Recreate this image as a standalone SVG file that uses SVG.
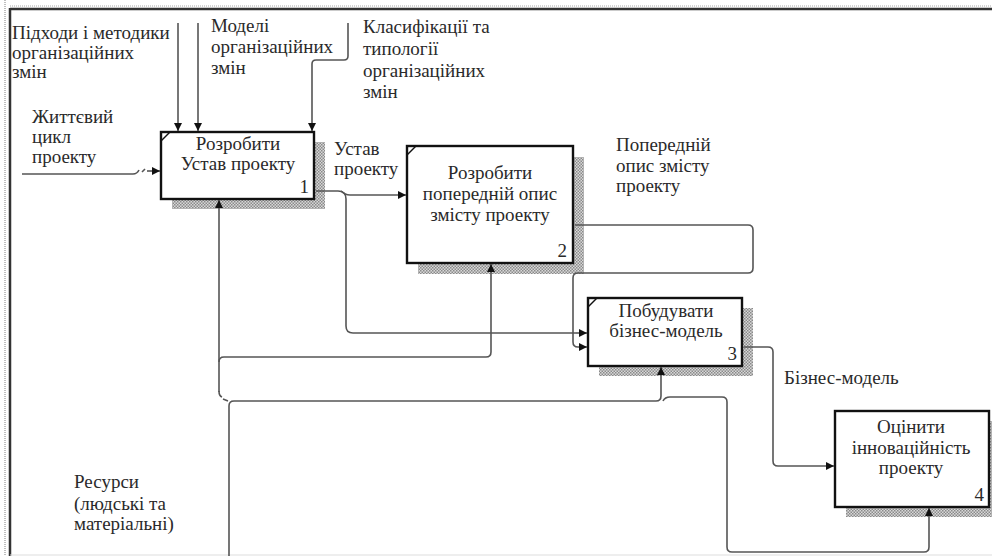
<svg xmlns="http://www.w3.org/2000/svg" width="992" height="556" viewBox="0 0 992 556">
<defs>
<pattern id="hatch" width="3" height="3" patternUnits="userSpaceOnUse">
<rect width="3" height="3" fill="#d8d8d8"/>
<rect width="1.5" height="1.5" fill="#8a8a8a"/>
<rect x="1.5" y="1.5" width="1.5" height="1.5" fill="#8a8a8a"/>
</pattern>
<marker id="ah" viewBox="0 0 10 10" refX="10" refY="5" markerWidth="9" markerHeight="8" markerUnits="userSpaceOnUse" orient="auto">
<path d="M0,0 L10,5 L0,10 Z" fill="#111"/>
</marker>
<style>
.t{font-family:"Liberation Serif","DejaVu Serif",serif;font-size:19px;fill:#2a2a2a}
.c{text-anchor:middle}
.n{text-anchor:end}
.box{fill:#fff;stroke:#111;stroke-width:2.4}
.sh{fill:url(#hatch)}
.mk{stroke:#111;stroke-width:1.5;fill:none}
.a{fill:none;stroke:#555;stroke-width:1.6}
.ar{fill:none;stroke:#555;stroke-width:1.6;marker-end:url(#ah)}
</style>
</defs>
<rect width="992" height="556" fill="#fff"/>
<g id="frame">
<line x1="5" y1="0" x2="5" y2="556" stroke="#aaa" stroke-width="1.5" stroke-dasharray="1 1"/>
<line x1="10" y1="6" x2="992" y2="6" stroke="#aaa" stroke-width="1" stroke-dasharray="1 1"/>
<line x1="10" y1="9" x2="992" y2="9" stroke="#333" stroke-width="2.5"/>
<line x1="10" y1="8" x2="10" y2="556" stroke="#333" stroke-width="2.5"/>
<line x1="10" y1="555" x2="992" y2="555" stroke="#ddd" stroke-width="1"/>
</g>
<g id="node1">
<rect class="sh" x="172" y="142" width="153" height="67"/>
<rect class="box" x="161" y="132" width="153" height="67"/>
<line class="mk" x1="161" y1="141" x2="170" y2="132"/>
<text class="t c" x="238" y="150">Розробити</text>
<text class="t c" x="238" y="170">Устав проекту</text>
<text class="t n" x="309" y="193">1</text>
</g>
<g id="node2">
<rect class="sh" x="418" y="157" width="166" height="117"/>
<rect class="box" x="407" y="146" width="166" height="117"/>
<line class="mk" x1="407" y1="155" x2="416" y2="146"/>
<text class="t c" x="490" y="179">Розробити</text>
<text class="t c" x="490" y="200">попередній опис</text>
<text class="t c" x="490" y="221">змісту проекту</text>
<text class="t n" x="567" y="257">2</text>
</g>
<g id="node3">
<rect class="sh" x="599" y="308" width="154" height="68"/>
<rect class="box" x="588" y="298" width="154" height="68"/>
<line class="mk" x1="588" y1="307" x2="597" y2="298"/>
<text class="t c" x="666" y="317">Побудувати</text>
<text class="t c" x="666" y="337">бізнес-модель</text>
<text class="t n" x="737" y="360">3</text>
</g>
<g id="node4">
<rect class="sh" x="846" y="421" width="154" height="96"/>
<rect class="box" x="835" y="411" width="154" height="96"/>
<text class="t c" x="911" y="433">Оцінити</text>
<text class="t c" x="911" y="454">інноваційність</text>
<text class="t c" x="911" y="474">проекту</text>
<text class="t n" x="984" y="501">4</text>
</g>
<g id="connectors">
<path class="ar" d="M178,23 V131"/>
<path class="ar" d="M198,23 V131"/>
<path class="ar" d="M348,23 V56 Q348,60 344,60 H316 Q312,60 312,64 V131"/>
<path class="a" d="M22,174 H133 Q137,174 139,170"/>
<path class="a" d="M142,172 L145,169"/>
<path class="ar" d="M147,171 H160"/>
<path class="a" d="M316,191 H338 Q346,191 346,199 V326 Q346,333 353,333 H576"/>
<path class="ar" d="M576,333 H587"/>
<path class="ar" d="M341,191 Q345,195 350,195 H406"/>
<path class="ar" d="M575,225 H748 Q753,225 753,230 V268 Q753,273 748,273 H578 Q573,273 573,278 V342 Q573,347 578,347 H587"/>
<path class="ar" d="M744,347 H768 Q773,347 773,352 V461 Q773,466 778,466 H834"/>
<path class="ar" d="M229,556 V406 Q229,401 234,401 H656 Q661,401 661,396 V367"/>
<path class="ar" d="M663,401 Q665,397 670,397 H722 Q727,397 727,402 V547 Q727,552 732,552 H924 Q929,552 929,547 V508"/>
<path class="ar" d="M219,392 V200"/>
<path class="a" d="M219,391 Q219,396 222,397 M223,399 L228,401"/>
<path class="ar" d="M219,362 Q219,357 224,357 H486 Q491,357 491,352 V264"/>
</g>
<g id="labels">
<text class="t" x="12" y="39">Підходи і методики</text>
<text class="t" x="12" y="59">організаційних</text>
<text class="t" x="12" y="78">змін</text>
<text class="t" x="211" y="32">Моделі</text>
<text class="t" x="211" y="53">організаційних</text>
<text class="t" x="211" y="74">змін</text>
<text class="t" x="363" y="33">Класифікації та</text>
<text class="t" x="363" y="55">типології</text>
<text class="t" x="363" y="77">організаційних</text>
<text class="t" x="363" y="98">змін</text>
<text class="t" x="32" y="123">Життєвий</text>
<text class="t" x="32" y="143">цикл</text>
<text class="t" x="32" y="163">проекту</text>
<text class="t" x="334" y="155">Устав</text>
<text class="t" x="334" y="175">проекту</text>
<text class="t" x="616" y="151">Попередній</text>
<text class="t" x="616" y="172">опис змісту</text>
<text class="t" x="616" y="192">проекту</text>
<text class="t" x="784" y="384">Бізнес-модель</text>
<text class="t" x="74" y="488">Ресурси</text>
<text class="t" x="74" y="510">(людські та</text>
<text class="t" x="74" y="530">матеріальні)</text>
</g>
</svg>
